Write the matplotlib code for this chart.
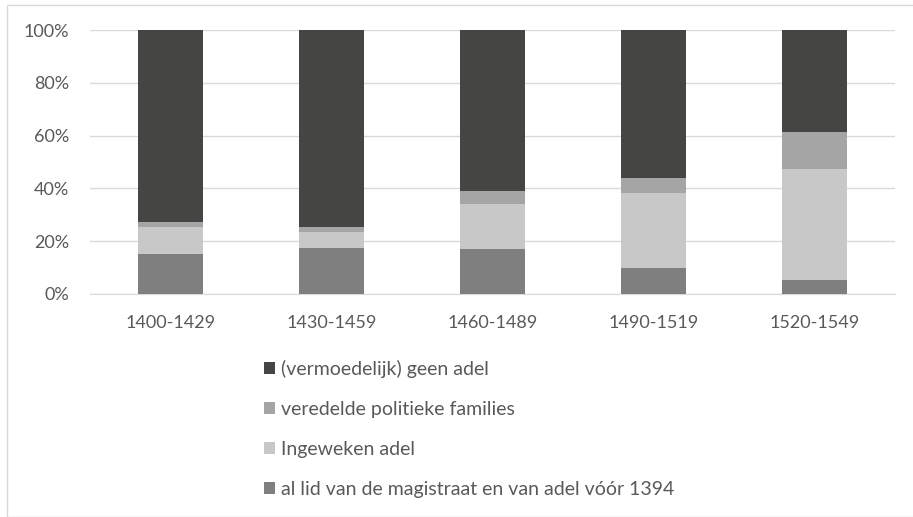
import numpy as np
import matplotlib.pyplot as plt
from matplotlib.patches import Rectangle
from matplotlib.ticker import PercentFormatter

plt.rcParams['font.family'] = ['Lato', 'DejaVu Sans']

periods = ['1400-1429', '1430-1459', '1460-1489', '1490-1519', '1520-1549']
# shares in % per period, bottom to top of the stack
al_lid = [15.1, 17.4, 17.1, 9.9, 5.2]
ingeweken = [10.2, 6.0, 17.1, 28.2, 42.1]
veredeld = [1.9, 1.9, 4.8, 5.9, 14.1]
geen_adel = [72.8, 74.7, 61.0, 56.0, 38.6]

series = [
    ('al lid van de magistraat en van adel vóór 1394', al_lid, '#7f7f7f'),
    ('Ingeweken adel', ingeweken, '#c8c8c8'),
    ('veredelde politieke families', veredeld, '#a5a5a5'),
    ('(vermoedelijk) geen adel', geen_adel, '#454543'),
]

text_col = '#595959'

fig = plt.figure(figsize=(9.13, 5.17), dpi=100)
ax = fig.add_axes([90 / 913, 1 - 293.7 / 517, 805 / 913, 263.4 / 517])

x = np.arange(len(periods))
bottom = np.zeros(len(periods))
handles = []
for name, vals, col in series:
    b = ax.bar(x, vals, 0.4, bottom=bottom, color=col, label=name, zorder=3)
    handles.append(b)
    bottom += np.array(vals)

ax.set_xlim(-0.5, len(periods) - 0.5)
ax.set_ylim(0, 100)
ax.set_yticks(np.arange(0, 101, 20))
ax.yaxis.set_major_formatter(PercentFormatter(decimals=0))
ax.set_xticks(x)
ax.set_xticklabels(periods)
ax.grid(axis='y', color='#d9d9d9', linewidth=1, zorder=0)
for s in ['top', 'right', 'left']:
    ax.spines[s].set_visible(False)
ax.spines['bottom'].set_color('#d9d9d9')
ax.tick_params(axis='both', length=0, labelsize=13, colors=text_col)
ax.tick_params(axis='y', pad=15)
ax.tick_params(axis='x', pad=15)

fig.legend(handles[::-1], [s[0] for s in series][::-1],
           loc='upper left', bbox_to_anchor=(256 / 913, 1 - 352 / 517),
           frameon=False, fontsize=14, labelcolor=text_col,
           handlelength=0.58, handleheight=0.58, handletextpad=0.3,
           labelspacing=1.18, borderaxespad=0)

# light outer frame of the chart area
fig.patches.append(Rectangle((7 / 913, 0), 1, 1 - 5 / 517, transform=fig.transFigure,
                             fill=False, edgecolor='#d9d9d9', linewidth=1))

fig.savefig('out.png', dpi=100)
